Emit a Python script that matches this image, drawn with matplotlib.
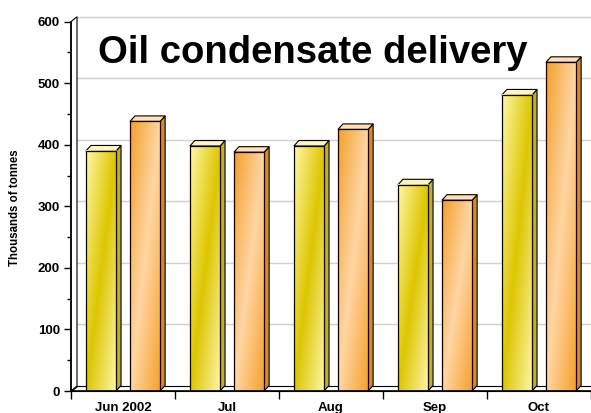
import numpy as np
import matplotlib
matplotlib.use("Agg")
import matplotlib.pyplot as plt
from matplotlib.colors import LinearSegmentedColormap
from matplotlib.patches import Polygon, Rectangle

# data
months = ["Jun 2002", "Jul", "Aug", "Sep", "Oct"]
series_yellow = [390, 398, 398, 335, 481]
series_orange = [438, 388, 425, 310, 534]
y_ticks = [0, 100, 200, 300, 400, 500, 600]

plt.rcParams['font.family'] = ['Liberation Sans', 'DejaVu Sans']
plt.rcParams['font.weight'] = 'bold'

W, H, DPI = 591, 413, 100
fig = plt.figure(figsize=(W / DPI, H / DPI), dpi=DPI)

# front plane of the plot, in pixels
left, right, bottom, top = 71, 591, 391, 21.7
ax = fig.add_axes([left / W, 1 - bottom / H, (right - left) / W, (bottom - top) / H])

n = len(months)
ax.set_xlim(-0.5, n - 0.5)
ax.set_ylim(0, 600)

sx = (right - left) / n
sy = (bottom - top) / 600.


def depth(px, py):
    return px / sx, py / sy


wdx, wdy = depth(6, 5)
bdx, bdy = depth(5, 5.5)

# back wall gridlines
for v in y_ticks[1:]:
    ax.plot([-0.5 + wdx, n + 1], [v + wdy, v + wdy], color='#d0d0d0', lw=1,
            clip_on=False, zorder=0)

# floor and left wall
floor = Polygon([(-0.5, 0), (n + 1, 0), (n + 1, wdy), (-0.5 + wdx, wdy)],
                closed=True, fc='white', ec='black', lw=0.8, clip_on=False, zorder=1)
ax.add_patch(floor)
wall = Polygon([(-0.5, 0), (-0.5 + wdx, wdy), (-0.5 + wdx, 600 + wdy), (-0.5, 600)],
               closed=True, fc='white', ec='black', lw=0.8, clip_on=False, zorder=1)
ax.add_patch(wall)

cmap_yellow = LinearSegmentedColormap.from_list('y', ['#fff6a8', '#dcc600', '#fff6a8'])
cmap_orange = LinearSegmentedColormap.from_list('o', ['#f4a02c', '#ffd6a4', '#f4a02c'])

g = np.linspace(0, 1, 64)
U, V = np.meshgrid(g, g)
grad = (U - V + 1) / 2.

bar_w = 0.29
offset = 0.212


def draw_bar(c, h, cmap, side_col, top_col):
    x0, x1 = c - bar_w / 2, c + bar_w / 2
    side = Polygon([(x1, 0), (x1 + bdx, bdy), (x1 + bdx, h + bdy), (x1, h)],
                   closed=True, fc=side_col, ec='black', lw=0.8, zorder=3)
    lid = Polygon([(x0, h), (x0 + bdx, h + bdy), (x1 + bdx, h + bdy), (x1, h)],
                  closed=True, fc=top_col, ec='black', lw=0.8, zorder=3)
    ax.add_patch(side)
    ax.add_patch(lid)
    ax.imshow(grad, extent=(x0, x1, 0, h), origin='lower', cmap=cmap,
              aspect='auto', interpolation='bilinear', zorder=3)
    ax.add_patch(Rectangle((x0, 0), bar_w, h, fill=False, ec='black', lw=0.9, zorder=4))


for i in range(n):
    draw_bar(i - offset, series_yellow[i], cmap_yellow, '#c4ae22', '#fdf5c0')
    draw_bar(i + offset, series_orange[i], cmap_orange, '#dc8a1e', '#ffe0b4')

ax.set_xlim(-0.5, n - 0.5)
ax.set_ylim(0, 600)
ax.set_aspect('auto')

for s in ['top', 'right']:
    ax.spines[s].set_visible(False)
for s in ['left', 'bottom']:
    ax.spines[s].set_linewidth(1.2)
    ax.spines[s].set_zorder(5)

ax.set_yticks(y_ticks)
ax.set_yticks(np.arange(50, 600, 100), minor=True)
ax.tick_params(axis='y', which='major', length=5, width=1, labelsize=9.5, pad=3)
ax.tick_params(axis='y', which='minor', length=3, width=1)

ax.set_xticks(np.arange(-0.5, n, 1))
ax.set_xticklabels([])
ax.set_xticks(range(n), minor=True)
ax.set_xticklabels(months, minor=True)
ax.tick_params(axis='x', which='major', length=6, width=1)
ax.tick_params(axis='x', which='minor', length=0, labelsize=9.5, pad=8)

fig.text(15 / W, 1 - 208 / H, "Thousands of tonnes", rotation=90, ha='center',
         va='center', fontsize=8.3, fontweight='bold')
fig.text(98 / W, 1 - 63 / H, "Oil condensate delivery", fontsize=27.5,
         fontweight='bold', ha='left', va='baseline')

fig.savefig('out.png', dpi=DPI)
